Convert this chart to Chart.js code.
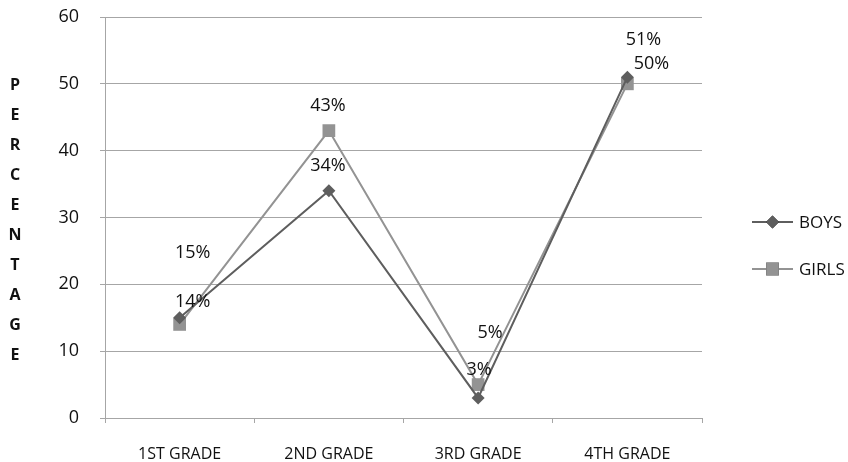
<!DOCTYPE html>
<html>
<head>
<meta charset="utf-8">
<script src="https://cdn.jsdelivr.net/npm/chart.js@4.4.1/dist/chart.umd.min.js"></script>
<style>
  html, body { margin: 0; padding: 0; background: #fff; }
  canvas { display: block; }
</style>
</head>
<body>
<canvas id="chart" width="848" height="462"></canvas>
<script>
// Grades on the horizontal axis
const grades = ['1ST GRADE', '2ND GRADE', '3RD GRADE', '4TH GRADE'];
// Percentages per grade
const boys = [15, 34, 3, 51];
const girls = [14, 43, 5, 50];
// Value axis
const yMin = 0;
const yMax = 60;
const yStep = 10;
const axisTitle = 'PERCENTAGE';

// Where each value label sits relative to its point (pixels)
const labelShift = [
  [[13, -65], [-1, -25], [1, -28], [16, -37]],
  [[13, -23], [-1, -25], [12, -52], [24, -20]]
];

const FONT = '"Open Sans", "Noto Sans", sans-serif';
const GRID = '#a6a6a6';

const extras = {
  id: 'extras',
  afterDatasetsDraw(chart) {
    const ctx = chart.ctx;
    ctx.save();
    ctx.font = '18px ' + FONT;
    ctx.fillStyle = '#111';
    ctx.textAlign = 'center';
    ctx.textBaseline = 'middle';
    chart.data.datasets.forEach((ds, di) => {
      const meta = chart.getDatasetMeta(di);
      meta.data.forEach((pt, i) => {
        const [dx, dy] = labelShift[di][i];
        ctx.fillText(ds.data[i] + '%', pt.x + dx, pt.y + dy);
      });
    });
    ctx.restore();
  },
  afterDraw(chart) {
    const ctx = chart.ctx;
    ctx.save();
    // stacked axis title
    ctx.font = 'bold 16px ' + FONT;
    ctx.fillStyle = '#111';
    ctx.textAlign = 'center';
    ctx.textBaseline = 'middle';
    const top = 85;
    for (let i = 0; i < axisTitle.length; i++) {
      ctx.fillText(axisTitle[i], 15, top + i * 30);
    }
    // legend
    const rows = [222, 269];
    chart.data.datasets.forEach((ds, di) => {
      const y = rows[di];
      ctx.strokeStyle = ds.borderColor;
      ctx.lineWidth = 2;
      ctx.beginPath();
      ctx.moveTo(752, y);
      ctx.lineTo(793, y);
      ctx.stroke();
      Chart.helpers.drawPoint(ctx, {
        pointStyle: ds.pointStyle,
        radius: ds.pointRadius,
        rotation: 0,
        borderWidth: 0
      }, 772.5, y);
      ctx.fillStyle = ds.pointBackgroundColor;
      ctx.fill();
      ctx.fillStyle = '#111';
      ctx.font = '17px ' + FONT;
      ctx.textAlign = 'left';
      ctx.fillText(ds.label, 799, y + 1);
    });
    ctx.restore();
  }
};

new Chart(document.getElementById('chart'), {
  type: 'line',
  data: {
    labels: grades,
    datasets: [
      {
        label: 'BOYS',
        data: boys,
        borderColor: '#5e5e5e',
        backgroundColor: '#5e5e5e',
        pointBackgroundColor: '#5e5e5e',
        pointBorderWidth: 0,
        pointStyle: 'rectRot',
        pointRadius: 6.5,
        borderWidth: 2,
        tension: 0
      },
      {
        label: 'GIRLS',
        data: girls,
        borderColor: '#939393',
        backgroundColor: '#939393',
        pointBackgroundColor: '#939393',
        pointBorderWidth: 0,
        pointStyle: 'rect',
        pointRadius: 9,
        borderWidth: 2,
        tension: 0
      }
    ]
  },
  options: {
    responsive: false,
    devicePixelRatio: 1,
    animation: false,
    layout: { padding: { left: 0, right: 146, top: 17, bottom: 0 } },
    plugins: {
      legend: { display: false },
      tooltip: { enabled: false }
    },
    scales: {
      x: {
        offset: true,
        grid: {
          display: true,
          offset: true,
          drawOnChartArea: false,
          drawTicks: true,
          tickLength: 5,
          color: GRID
        },
        border: { color: GRID, width: 1 },
        ticks: {
          color: '#111',
          font: { family: FONT, size: 16 },
          padding: 22,
          maxRotation: 0
        },
        afterFit(scale) {
          scale.height = 44;
          scale.paddingLeft = 0;
          scale.paddingRight = 0;
        }
      },
      y: {
        min: yMin,
        max: yMax,
        grid: { color: GRID, tickLength: 5, drawTicks: true },
        border: { color: GRID, width: 1 },
        ticks: {
          stepSize: yStep,
          color: '#111',
          font: { family: FONT, size: 18 },
          padding: 21
        },
        afterFit(scale) {
          scale.width = 105;
          scale.paddingTop = 0;
          scale.paddingBottom = 0;
        }
      }
    }
  },
  plugins: [extras]
});
</script>
</body>
</html>
